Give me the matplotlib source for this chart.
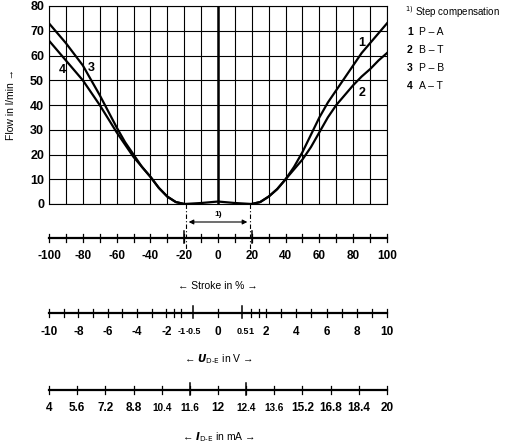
import matplotlib
matplotlib.use("Agg")
import matplotlib.pyplot as plt
import numpy as np

plt.rcParams['font.family'] = ['Liberation Sans Narrow', 'Liberation Sans', 'DejaVu Sans']

# data
stroke_right = [20, 25, 30, 35, 40, 45, 50, 55, 60, 65, 70, 75, 80, 85, 90, 95, 100]
flow_1 = [0, 0.8, 3, 6, 10, 15, 21, 28, 35, 41, 46, 51, 56, 61, 65, 69, 73]
flow_2 = [0, 0.8, 3, 6, 10, 14, 18, 23, 29, 35, 40, 44, 48, 51.5, 54.5, 58, 61]
stroke_left = [-100, -95, -90, -85, -80, -75, -70, -65, -60, -55, -50, -45, -40, -35, -30, -25, -20]
flow_3 = [73, 69, 65, 60.5, 56, 50, 44, 37.5, 31, 25, 20, 15, 11, 6.5, 3, 0.8, 0]
flow_4 = [66, 62, 58, 54, 50, 45, 40, 34.5, 29, 24, 19, 15, 11, 6.5, 3, 0.8, 0]
stroke_mid = [-20, -10, 0, 10, 20]
flow_mid = [0, 0.4, 1.0, 0.4, 0]
stroke_ticks = list(range(-100, 101, 20))
volt_ticks = [-10, -8, -6, -4, -2, -1, -0.5, 0, 0.5, 1, 2, 4, 6, 8, 10]
volt_labels = ['-10', '-8', '-6', '-4', '-2', '-1', '-0.5', '0', '0.5', '1', '2', '4', '6', '8', '10']
volt_anchor = [-10, -2, -1, -0.5, 0, 0.5, 1, 2, 10]
volt_anchor_stroke = [-100, -30.6, -21.7, -14.8, 0, 14.4, 19.7, 28.5, 100]
cur_ticks = [4, 5.6, 7.2, 8.8, 10.4, 11.6, 12, 12.4, 13.6, 15.2, 16.8, 18.4, 20]
cur_labels = ['4', '5.6', '7.2', '8.8', '10.4', '11.6', '12', '12.4', '13.6', '15.2', '16.8', '18.4', '20']
legend_items = [('1', 'P – A'), ('2', 'B – T'), ('3', 'P – B'), ('4', 'A – T')]

W, H = 506, 446
fig = plt.figure(figsize=(W/100, H/100), dpi=100)
x0, x1 = 49, 387
ax = fig.add_axes([x0/W, 1-204/H, (x1-x0)/W, (204-6)/H])
ax.set_xlim(-100, 100); ax.set_ylim(0, 80)
ax.set_xticks(range(-100, 101, 10)); ax.set_yticks(range(0, 81, 10))
ax.grid(True, color='black', lw=0.8)
ax.tick_params(length=0, labelbottom=False)
ax.set_yticklabels([str(v) for v in range(0, 81, 10)], fontweight='bold', fontsize=9)
for s in ax.spines.values():
    s.set_linewidth(0.8)
ax.set_ylabel('Flow in l/min →', fontsize=7.5, labelpad=10)
lw = 1.6
ax.plot(stroke_right, flow_1, 'k', lw=lw)
ax.plot(stroke_right, flow_2, 'k', lw=lw)
ax.plot(stroke_left, flow_3, 'k', lw=lw)
ax.plot(stroke_left, flow_4, 'k', lw=lw)
ax.plot(stroke_mid, flow_mid, 'k', lw=lw)
ax.plot([0, 0], [0, 80], 'k', lw=1.8)
for t, x, y in [('1', 85, 65), ('2', 85, 45), ('3', -75, 55), ('4', -92, 54)]:
    ax.text(x, y, t, fontsize=9, fontweight='bold', ha='center', va='center')

# overlay in pixel rows
ov = fig.add_axes([x0/W, 0, (x1-x0)/W, 1])
ov.set_xlim(-100, 100); ov.set_ylim(H, 0); ov.axis('off')
def numline(y, major, labels, minor, big, ly, small=(), sfs=7):
    ov.plot([-100, 100], [y, y], 'k', lw=1.6, clip_on=False)
    for m in minor:
        ov.plot([m, m], [y-4, y+4], 'k', lw=0.9, clip_on=False)
    for m in big:
        ov.plot([m, m], [y-7, y+5], 'k', lw=1.1, clip_on=False)
    for m, l in zip(major, labels):
        sm = l in small
        ov.text(m, ly, l, ha='center', va='center', fontsize=sfs if sm else 8.5,
                fontweight='bold', clip_on=False)

numline(238, stroke_ticks, [str(v) for v in stroke_ticks], range(-100, 101, 10), [-20, 20], 256)
ov.text(0, 286, '← Stroke in % →', ha='center', va='center', fontsize=7.5)
vmap = lambda v: np.interp(v, volt_anchor, volt_anchor_stroke)
vminor = [vmap(v) for v in list(range(-10, -1)) + [-1.5, -1, 0, 1, 1.5] + list(range(2, 11))]
numline(313, [vmap(v) for v in volt_ticks], volt_labels, vminor, [vmap(-0.5), vmap(0.5)], 332,
        small=('-1', '-0.5', '0.5', '1'), sfs=6.5)
ov.text(0, 359, r'← $\boldsymbol{U}_{\mathrm{D\text{-}E}}$ in V →', ha='center', va='center', fontsize=7.5)
cpos = np.linspace(-100, 100, 13)
numline(390, cpos, cur_labels, cpos, [cpos[5], cpos[7]], 408, small=('10.4', '11.6', '12.4', '13.6'), sfs=7.2)
ov.text(0, 437, r'← $\boldsymbol{I}_{\mathrm{D\text{-}E}}$ in mA →', ha='center', va='center', fontsize=7.5)

# step compensation marks
for s in [-19, 19]:
    ov.plot([s, s], [204, 250], 'k', lw=0.8, ls=(0, (4, 2, 1, 2)), clip_on=False)
ov.annotate('', xy=(-19, 222), xytext=(19, 222),
            arrowprops=dict(arrowstyle='<|-|>', color='k', lw=0.8, mutation_scale=7))
ov.text(0, 215, '1)', ha='center', va='center', fontsize=6, fontweight='bold')

# legend
fig.text(405/W, 1-12/H, r'$^{1)}$ Step compensation', fontsize=7, va='center')
for i, (n, t) in enumerate(legend_items):
    y = 32 + 18*i
    fig.text(407/W, 1-y/H, n, fontsize=7.5, fontweight='bold', va='center')
    fig.text(419/W, 1-y/H, t, fontsize=7.5, va='center')

fig.savefig('out.png', dpi=100)
